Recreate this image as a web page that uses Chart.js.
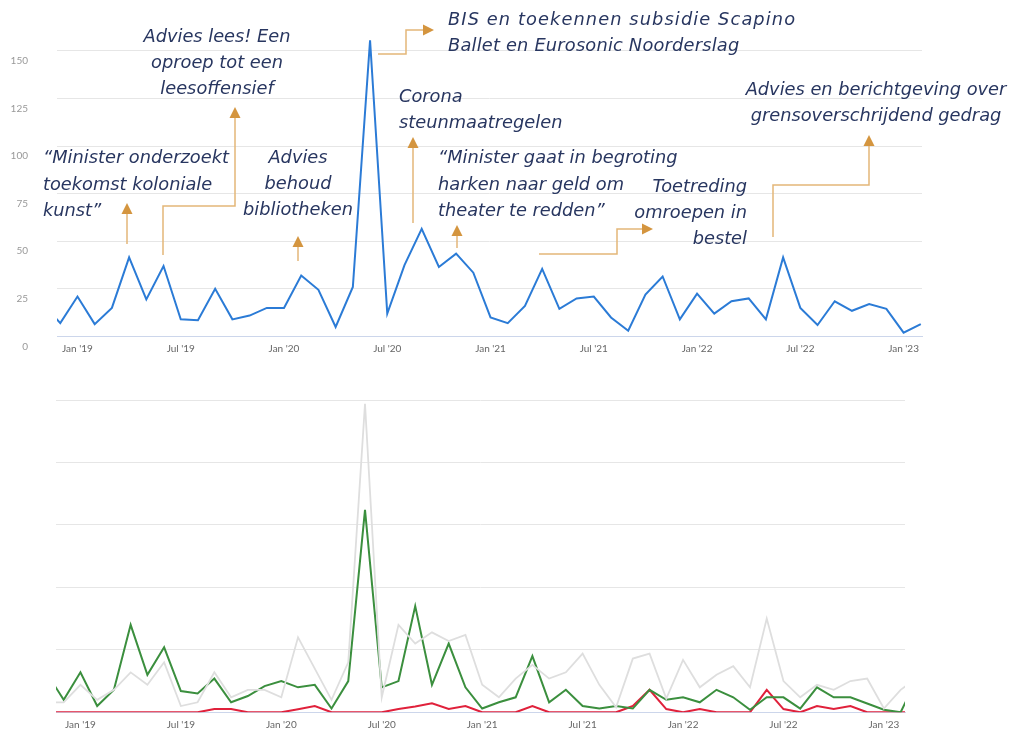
<!DOCTYPE html>
<html lang="nl">
<head>
  <meta charset="UTF-8">
  <title>Aandacht per maand</title>
  <script src="https://cdn.jsdelivr.net/npm/chart.js"></script>
  <style>
    body {
      margin: 0;
      padding: 0;
      background: #ffffff;
      width: 1012px;
      height: 729px;
      overflow: hidden;
      position: relative;
    }
    canvas {
      position: absolute;
      left: 0;
    }
    #boven { top: 0; }
    #onder { top: 380px; }
  </style>
</head>
<body>
  <canvas id="boven" width="1012" height="365"></canvas>
  <canvas id="onder" width="1012" height="349"></canvas>

  <script>
    // maanden nov 2018 - mrt 2023
    const maanden = [
      '2018-11', '2018-12',
      '2019-01', '2019-02', '2019-03', '2019-04', '2019-05', '2019-06',
      '2019-07', '2019-08', '2019-09', '2019-10', '2019-11', '2019-12',
      '2020-01', '2020-02', '2020-03', '2020-04', '2020-05', '2020-06',
      '2020-07', '2020-08', '2020-09', '2020-10', '2020-11', '2020-12',
      '2021-01', '2021-02', '2021-03', '2021-04', '2021-05', '2021-06',
      '2021-07', '2021-08', '2021-09', '2021-10', '2021-11', '2021-12',
      '2022-01', '2022-02', '2022-03', '2022-04', '2022-05', '2022-06',
      '2022-07', '2022-08', '2022-09', '2022-10', '2022-11', '2022-12',
      '2023-01', '2023-02', '2023-03'
    ];
    const maandNamen = { '01': 'Jan', '07': 'Jul' };

    // bovenste grafiek
    const totaal = [
      17, 7,
      21, 6.5, 15, 41.5, 19.5, 37, 9, 8.5, 25, 9, 11, 15,
      15, 32, 24.5, 5, 26, 155.5, 12, 37.5, 56.5, 36.5, 43.5, 33.5,
      10, 7, 16, 35.5, 14.5, 20, 21, 10, 3, 22, 31.5, 9,
      22.5, 12, 18.5, 20, 9, 41.5, 15, 6, 18.5, 13.5, 17, 14.5,
      2, 6.5, null
    ];

    // onderste grafiek
    const grijs = [
      4, 4,
      11, 5, 9, 16, 11, 20, 2.5, 4, 16, 6, 9, 9,
      6, 30, 17.5, 5, 20, 123.5, 6, 35, 27.5, 32, 28.5, 31,
      11, 6, 13.5, 19, 13.5, 16, 23.5, 11, 2, 21.5, 23.5, 5.5,
      21, 10, 15, 18.5, 10, 37.5, 12.5, 6, 11, 9, 12.5, 13.5,
      1.5, 9, 14
    ];
    const groen = [
      15.5, 5,
      16, 2.5, 9, 35, 15, 26, 8.5, 7.5, 13.5, 4, 6.5, 10.5,
      12.5, 10, 11, 1.5, 12.5, 81, 10, 12.5, 42.5, 11, 27.5, 10,
      1.5, 4, 6, 22.5, 4, 9, 2.5, 1.5, 2.5, 1.5, 9, 5,
      6, 4, 9, 6, 1, 6, 6, 1.5, 10, 6, 6, 3.5,
      1, 0, 14
    ];
    const rood = [
      0, 0,
      0, 0, 0, 0, 0, 0, 0, 0, 1.3, 1.3, 0, 0,
      0, 1.2, 2.5, 0, 0, 0, 0, 1.3, 2.3, 3.6, 1.3, 2.5,
      0, 0, 0, 2.5, 0, 0, 0, 0, 0, 2.5, 9, 1.3,
      0, 1.3, 0, 0, 0, 9, 1.3, 0, 2.5, 1.3, 2.5, 0,
      0, 0, 0
    ];

    const xTicks = [2, 8, 14, 20, 26, 32, 38, 44, 50];
    const yTicksBoven = [0, 25, 50, 75, 100, 125, 150];
    const yTicksOnder = [0, 25, 50, 75, 100, 125];

    function punten(reeks) {
      return maanden.map((m, i) => ({ x: i, y: reeks[i] }));
    }
    function maandLabel(v) {
      const m = maanden[v];
      if (!m) return '';
      return maandNamen[m.slice(5)] + " '" + m.slice(2, 4);
    }

    const tekstKleur = '#283660';
    const pijlKleur = '#e3b678';
    const kopKleur = '#d4953f';

    const teksten = [
      { x: 43, y: [158, 185, 211], align: 'left', regels: ['\u201cMinister onderzoekt', 'toekomst koloniale', 'kunst\u201d'] },
      { x: 217, y: [37, 63, 89], align: 'center', regels: ['Advies lees! Een', 'oproep tot een', 'leesoffensief'] },
      { x: 298, y: [158, 184, 210], align: 'center', regels: ['Advies', 'behoud', 'bibliotheken'] },
      { x: 448, y: [20, 46], align: 'left', regels: ['BIS en toekennen subsidie Scapino', 'Ballet en Eurosonic Noorderslag'], spatie: [1.1, 0.2] },
      { x: 399, y: [97, 123], align: 'left', regels: ['Corona', 'steunmaatregelen'] },
      { x: 438, y: [158, 185, 211], align: 'left', regels: ['\u201cMinister gaat in begroting', 'harken naar geld om', 'theater te redden\u201d'] },
      { x: 747, y: [187, 213, 239], align: 'right', regels: ['Toetreding', 'omroepen in', 'bestel'] },
      { x: 876, y: [90, 116], align: 'center', regels: ['Advies en berichtgeving over', 'grensoverschrijdend gedrag'] }
    ];

    const pijlen = [
      { kop: 'op', pad: [[127, 244], [127, 203]] },
      { kop: 'op', pad: [[163, 255], [163, 206], [235, 206], [235, 107]] },
      { kop: 'op', pad: [[298, 261], [298, 236]] },
      { kop: 'rechts', pad: [[378, 54], [406, 54], [406, 30], [434, 30]] },
      { kop: 'op', pad: [[413, 223], [413, 137]] },
      { kop: 'op', pad: [[457, 248], [457, 225]] },
      { kop: 'rechts', pad: [[539, 254], [617, 254], [617, 229], [653, 229]] },
      { kop: 'op', pad: [[773, 237], [773, 185], [869, 185], [869, 135]] }
    ];

    const annotaties = {
      id: 'annotaties',
      afterDraw(chart) {
        const ctx = chart.ctx;
        ctx.save();
        pijlen.forEach(p => {
          const pad = p.pad;
          const eind = pad[pad.length - 1];
          const kopLengte = 11;
          const laatste = p.kop === 'op' ? [eind[0], eind[1] + kopLengte] : [eind[0] - kopLengte, eind[1]];
          ctx.strokeStyle = pijlKleur;
          ctx.lineWidth = 1.5;
          ctx.beginPath();
          ctx.moveTo(pad[0][0], pad[0][1]);
          for (let i = 1; i < pad.length - 1; i++) ctx.lineTo(pad[i][0], pad[i][1]);
          ctx.lineTo(laatste[0], laatste[1]);
          ctx.stroke();
          ctx.fillStyle = kopKleur;
          ctx.beginPath();
          if (p.kop === 'op') {
            ctx.moveTo(eind[0], eind[1]);
            ctx.lineTo(eind[0] - 5.5, eind[1] + kopLengte);
            ctx.lineTo(eind[0] + 5.5, eind[1] + kopLengte);
          } else {
            ctx.moveTo(eind[0], eind[1]);
            ctx.lineTo(eind[0] - kopLengte, eind[1] - 5.5);
            ctx.lineTo(eind[0] - kopLengte, eind[1] + 5.5);
          }
          ctx.closePath();
          ctx.fill();
        });

        ctx.fillStyle = tekstKleur;
        ctx.font = 'oblique 17.8px "DejaVu Sans"';
        ctx.textBaseline = 'middle';
        teksten.forEach(t => {
          ctx.textAlign = t.align;
          t.regels.forEach((r, i) => {
            ctx.letterSpacing = (t.spatie ? t.spatie[i] : 0) + 'px';
            ctx.fillText(r, t.x, t.y[i]);
          });
        });
        ctx.letterSpacing = '0px';
        ctx.restore();
      }
    };

    const xAs = (min, max, hoogte) => ({
      type: 'linear',
      min: min,
      max: max,
      afterBuildTicks: s => { s.ticks = xTicks.map(v => ({ value: v })); },
      afterFit: s => {
        s.height = hoogte;
        s.paddingLeft = 0;
        s.paddingRight = 0;
      },
      ticks: {
        callback: v => maandLabel(v),
        color: '#666666',
        font: { family: 'Lato', size: 10 },
        padding: 6,
        maxRotation: 0,
        autoSkip: false
      },
      grid: { display: false, drawTicks: false },
      border: { display: true, color: '#ccd6eb', width: 1 }
    });

    const yAs = (max, tickLijst, breedte, metLabels) => ({
      min: 0,
      max: max,
      afterBuildTicks: s => { s.ticks = tickLijst.map(v => ({ value: v })); },
      afterFit: s => {
        s.width = breedte;
        s.paddingTop = 0;
        s.paddingBottom = 0;
      },
      ticks: metLabels ? {
        color: '#999999',
        font: { family: 'Lato', size: 10 },
        padding: 29,
        labelOffset: 10
      } : { display: false },
      grid: { color: '#e6e6e6', drawTicks: false },
      border: { display: false }
    });

    // Grafiek boven: totaal
    new Chart(document.getElementById('boven'), {
      type: 'line',
      data: {
        datasets: [{
          data: punten(totaal),
          borderColor: '#2b7bd6',
          borderWidth: 2,
          pointRadius: 0,
          tension: 0
        }]
      },
      options: {
        responsive: false,
        animation: false,
        events: [],
        layout: { padding: { top: 31.7, right: 90, left: 0, bottom: 0 } },
        plugins: { legend: { display: false }, tooltip: { enabled: false } },
        scales: {
          x: xAs(0.81, 51.07, 28.5),
          y: yAs(160, yTicksBoven, 57, true)
        }
      },
      plugins: [annotaties]
    });

    // Grafiek onder: drie reeksen
    new Chart(document.getElementById('onder'), {
      type: 'line',
      data: {
        datasets: [
          { data: punten(grijs), borderColor: '#dedede', borderWidth: 1.8, pointRadius: 0, tension: 0 },
          { data: punten(groen), borderColor: '#3b8f3e', borderWidth: 2, pointRadius: 0, tension: 0 },
          { data: punten(rood), borderColor: '#e0213b', borderWidth: 2, pointRadius: 0, tension: 0 }
        ]
      },
      options: {
        responsive: false,
        animation: false,
        events: [],
        layout: { padding: { top: 20, right: 107, left: 0, bottom: 0 } },
        plugins: { legend: { display: false }, tooltip: { enabled: false } },
        scales: {
          x: xAs(0.54, 51.26, 16.7),
          y: yAs(125, yTicksOnder, 56, false)
        }
      }
    });
  </script>
</body>
</html>
